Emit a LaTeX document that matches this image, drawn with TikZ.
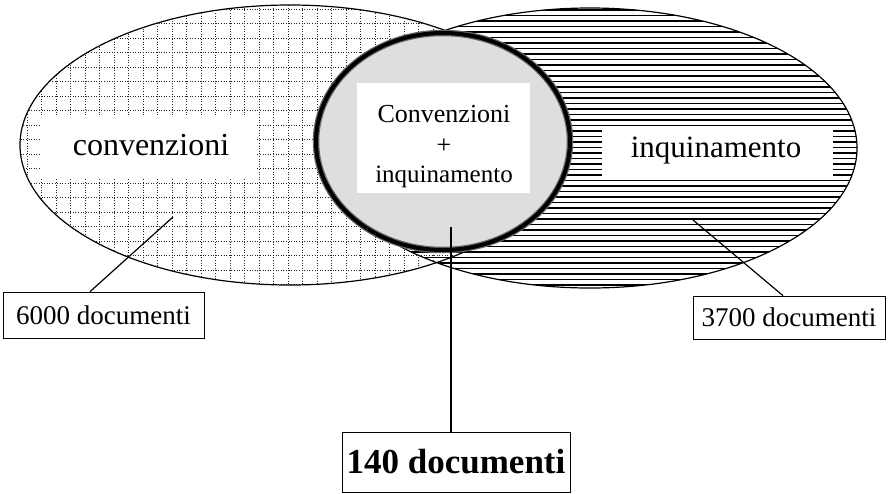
\documentclass[tikz,border=0pt]{standalone}
\usepackage{fontspec}
\setmainfont{Liberation Serif}
\begin{document}
\begin{tikzpicture}[x=1pt,y=-1pt,
  outl/.style={line width=1.2pt},
  gridl/.style={black!85, line width=1pt, dash pattern=on 1pt off 1.6pt},
  hatchl/.style={black, line width=1.1pt},
  lbl/.style={draw, line width=0.7pt, inner sep=0pt, font=\fontsize{27}{30}\selectfont},
  leader/.style={line width=1.2pt}]
\useasboundingbox (0,0) rectangle (890,493);
\fill[white] (0,0) rectangle (890,493);
% left ellipse: dotted grid
\begin{scope}
  \clip (290,145) ellipse [x radius=270, y radius=140];
  \foreach \x in {27,41.5,...,560} \draw[gridl] (\x,0) -- (\x,290);
  \foreach \y in {9,23.5,...,290} \draw[gridl] (0,\y) -- (560,\y);
\end{scope}
% right ellipse: horizontal hatching
\begin{scope}
  \clip (590,148) ellipse [x radius=267, y radius=140];
  \foreach \y in {10,15.5,...,290} \draw[hatchl] (320,\y) -- (860,\y);
\end{scope}
\draw[outl] (290,145) ellipse [x radius=270, y radius=140];
\draw[outl] (590,148) ellipse [x radius=267, y radius=140];
% white label areas
\fill[white] (40,115) rectangle (257,178);
\fill[white] (602,127) rectangle (833,180);
% intersection circle
\fill[black!13] (443,141.5) ellipse [x radius=127, y radius=108.5];
\fill[white] (357,83) rectangle (530,193);
\draw[line width=6.5pt, black!60] (443,141.5) ellipse [x radius=127, y radius=108.5];
\draw[line width=4pt, black] (443,141.5) ellipse [x radius=127, y radius=108.5];
% texts
\node[anchor=base, font=\fontsize{32}{36}\selectfont] (tconv) at (151,155) {convenzioni};
\node[anchor=base, font=\fontsize{31}{36}\selectfont] (tinq) at (716,157) {inquinamento};
\node[anchor=base, font=\fontsize{26}{30}\selectfont] (tc1) at (444,122) {Convenzioni};
\node[font=\fontsize{26}{30}\selectfont] (tplus) at (444,146) {+};
\node[anchor=base, font=\fontsize{25}{30}\selectfont] (tc2) at (444,182) {inquinamento};
% count boxes
\node[lbl, minimum width=201pt, minimum height=46pt] (b6000) at (103.5,315) {6000 documenti};
\node[lbl, minimum width=192pt, minimum height=43pt] (b3700) at (789,317.5) {3700 documenti};
\node[lbl, font=\bfseries\fontsize{35}{40}\selectfont, minimum width=228pt, minimum height=60pt] (b140) at (456,462) {140 documenti};
% leaders
\coordinate (p1) at (173,217);
\coordinate (p2) at (693,220);
\coordinate (p3) at (451,227);
\draw[leader] (p1) -- ([xshift=-13.5pt]b6000.north);
\draw[leader] (p2) -- ([xshift=-6pt]b3700.north);
\draw[leader] (p3) -- ([xshift=-5pt]b140.north);
\end{tikzpicture}
\end{document}
